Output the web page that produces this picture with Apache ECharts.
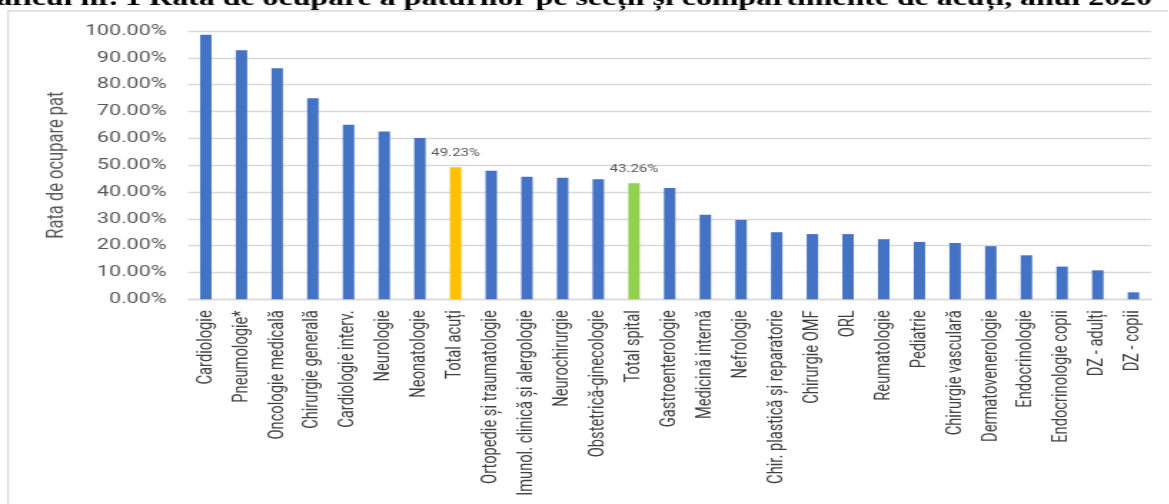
<!DOCTYPE html>
<html>
<head>
<meta charset="utf-8">
<script src="https://cdn.jsdelivr.net/npm/echarts@6/dist/echarts.min.js"></script>
<style>
  html, body { margin: 0; padding: 0; background: #fff; overflow: hidden; }
  #wrap { width: 1169px; height: 504px; overflow: hidden; position: relative; }
  #chart { height: 504px; transform-origin: 0 0; }
</style>
</head>
<body>
<div id="wrap"><div id="chart"></div></div>
<script>
// Secții și compartimente de acuți
const categories = [
  'Cardiologie', 'Pneumologie*', 'Oncologie medicală', 'Chirurgie generală',
  'Cardiologie interv.', 'Neurologie', 'Neonatologie', 'Total acuți',
  'Ortopedie și traumatologie', 'Imunol. clinică și alergologie', 'Neurochirurgie',
  'Obstetrică-ginecologie', 'Total spital', 'Gastroenterologie', 'Medicină internă',
  'Nefrologie', 'Chir. plastică și reparatorie', 'Chirurgie OMF', 'ORL',
  'Reumatologie', 'Pediatrie', 'Chirurgie vasculară', 'Dermatovenerologie',
  'Endocrinologie', 'Endocrinologie copii', 'DZ - adulți', 'DZ - copii'
];

// Rata de ocupare a paturilor (%), anul 2020
const occupancy = [
  98.6, 92.8, 86.1, 74.9,
  65.1, 62.5, 60.1, 49.23,
  47.9, 45.7, 45.3,
  44.7, 43.26, 41.5, 31.5,
  29.6, 25.0, 24.3, 24.3,
  22.4, 21.4, 21.0, 19.8,
  16.4, 12.2, 10.8, 2.6
];

// Y axis ticks (%)
const yTicks = { min: 0, max: 100, step: 10 };

// Totals are highlighted and carry their value label
const totalColors = { 'Total acuți': '#FFC000', 'Total spital': '#92D050' };
const barColor = '#4472C4';

const title = 'Graficul nr. 1 Rata de ocupare a paturilor pe secții și compartimente de acuți, anul 2020';

// The whole drawing is widened horizontally by this factor
const SX = 1.43;
const W = 1169, H = 504;

const el = document.getElementById('chart');
el.style.width = (W / SX) + 'px';
el.style.transform = 'scaleX(' + SX + ')';

const chart = echarts.init(el, null, { renderer: 'canvas' });

const seriesData = categories.map((name, i) => {
  const c = totalColors[name];
  return c ? {
    value: occupancy[i],
    itemStyle: { color: c },
    label: {
      show: true, position: 'top', distance: 8,
      formatter: p => p.value.toFixed(2) + '%',
      color: '#595959', fontSize: 10.5, fontFamily: 'Roboto'
    }
  } : { value: occupancy[i] };
});

chart.setOption({
  animation: false,
  backgroundColor: '#ffffff',
  grid: {
    left: 188 / SX,
    right: (W - 1152) / SX,
    top: 31,
    bottom: H - 299.3,
    containLabel: false
  },
  graphic: [
    {
      type: 'rect', silent: true, z: -1,
      shape: { x: 8 / SX, y: 11, width: 2000, height: 1000 },
      style: { fill: 'none', stroke: '#d9d9d9', lineWidth: 1.3 }
    },
    {
      type: 'text', silent: true,
      style: {
        text: title,
        x: 1152 / SX, y: -0.5,
        textAlign: 'right', textVerticalAlign: 'middle',
        align: 'right', verticalAlign: 'middle',
        font: 'bold 22.3px "Liberation Serif", "Times New Roman", serif',
        fill: '#000000'
      }
    }
  ],
  xAxis: {
    type: 'category',
    data: categories,
    axisLine: { show: true, lineStyle: { color: '#d9d9d9', width: 1.3 } },
    axisTick: { show: false },
    axisLabel: {
      interval: 0, rotate: 90, margin: 11,
      color: '#404040', fontSize: 14.7, fontFamily: 'Roboto'
    }
  },
  yAxis: {
    type: 'value',
    min: yTicks.min, max: yTicks.max, interval: yTicks.step,
    name: 'Rata de ocupare pat',
    nameLocation: 'middle',
    nameGap: 79,
    nameRotate: 90,
    nameTextStyle: { color: '#595959', fontSize: 16.5, fontFamily: 'Roboto' },
    axisLine: { show: false },
    axisTick: { show: false },
    splitLine: { lineStyle: { color: '#d9d9d9', width: 1.3 } },
    axisLabel: {
      margin: 15,
      color: '#595959', fontSize: 15, fontFamily: 'Roboto',
      formatter: v => v.toFixed(2) + '%'
    }
  },
  series: [{
    type: 'bar',
    data: seriesData,
    barWidth: '32%',
    itemStyle: { color: barColor }
  }]
});
</script>
</body>
</html>
